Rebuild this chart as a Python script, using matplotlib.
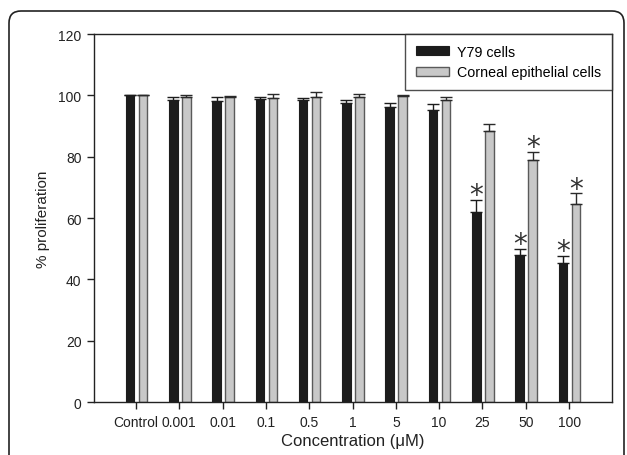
import matplotlib
matplotlib.use("Agg")
import matplotlib.pyplot as plt
import matplotlib.patches as mpatches
import matplotlib.transforms as mtrans
import numpy as np

plt.rcParams['font.family'] = ['Liberation Sans', 'DejaVu Sans']

categories = ['Control', '0.001', '0.01', '0.1', '0.5', '1', '5', '10', '25', '50', '100']
y79 = [100, 98.5, 98.2, 98.9, 98.4, 97.5, 96.2, 95.2, 62.0, 48.1, 45.3]
y79_err = [0, 1.1, 1.4, 0.6, 0.6, 1.1, 1.3, 1.9, 3.8, 1.8, 2.2]
cec = [100, 99.4, 99.6, 99.0, 99.5, 99.3, 99.8, 98.5, 88.4, 78.8, 64.6]
cec_err = [0, 0.6, 0.3, 1.4, 1.7, 1.3, 0.3, 0.8, 2.1, 2.7, 3.4]
y79_sig = [False]*8 + [True, True, True]
cec_sig = [False]*9 + [True, True]

fig = plt.figure(figsize=(6.27, 4.56), dpi=100)
ax = fig.add_axes([0.1499, 0.1162, 0.9753 - 0.1499, 0.9232 - 0.1162])

x = np.arange(len(categories))
w = 0.2
xb = x - 0.14
xg = x + 0.16

ax.bar(xb, y79, width=w, color='#1c1c1c', edgecolor='#1c1c1c', linewidth=0.8,
       label='Y79 cells', zorder=2)
ax.bar(xg, cec, width=w, color='#c8c8c8', edgecolor='#5a5a5a', linewidth=1.0,
       label='Corneal epithelial cells', zorder=2)

ax.errorbar(xb, y79, yerr=[np.zeros(len(y79)), y79_err], fmt='none', ecolor='#1c1c1c',
            elinewidth=1.0, capsize=4, capthick=1.0, zorder=3)
ax.errorbar(xg, cec, yerr=[np.zeros(len(cec)), cec_err], fmt='none', ecolor='#2a2a2a',
            elinewidth=1.0, capsize=4, capthick=1.0, zorder=3)

for xi, v, e, s in zip(xb, y79, y79_err, y79_sig):
    if s:
        ax.text(xi, v + e + 1.6, '*', ha='center', va='center', fontsize=20,
                family='DejaVu Sans', color='#333333')
for xi, v, e, s in zip(xg, cec, cec_err, cec_sig):
    if s:
        ax.text(xi, v + e + 1.6, '*', ha='center', va='center', fontsize=20,
                family='DejaVu Sans', color='#333333')

ax.set_xlim(-0.97, 10.98)
ax.set_ylim(0, 120)
ax.set_yticks([0, 20, 40, 60, 80, 100, 120])
ax.set_xticks(x)
ax.set_xticklabels(categories)
ax.tick_params(axis='both', direction='out', length=5, width=1, labelsize=10, pad=4,
               colors='#222222')
ax.tick_params(axis='x', pad=4)
for sp in ax.spines.values():
    sp.set_linewidth(1.0)
    sp.set_color('#222222')

ax.set_xlabel('Concentration (\u03bcM)', fontsize=12, labelpad=3, color='#222222')
ax.set_ylabel('% proliferation', fontsize=11, labelpad=6, color='#222222')

leg = ax.legend(loc='upper right', borderaxespad=0, fontsize=10.3, handlelength=2.3,
                handleheight=0.6, frameon=True, fancybox=False, borderpad=0.75,
                labelspacing=0.45, handletextpad=0.55)
leg.get_frame().set_edgecolor('#222222')
leg.get_frame().set_linewidth(1.0)

frame = mpatches.FancyBboxPatch((9, -40), 615, 444 + 40, boxstyle="round,pad=0,rounding_size=12",
                                transform=mtrans.IdentityTransform(), fill=False,
                                edgecolor='#222222', linewidth=1.2)
fig.patches.append(frame)

fig.savefig('out.png', dpi=100)
